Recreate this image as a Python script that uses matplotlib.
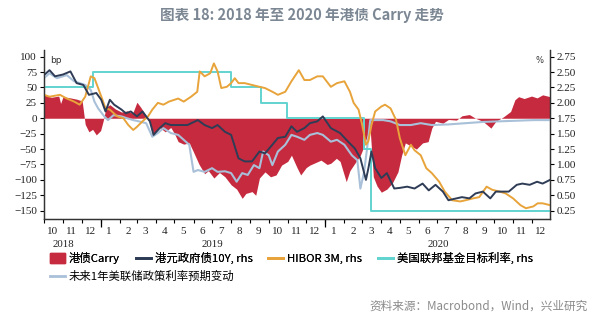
#!/usr/bin/env python

import pandas as pd
import matplotlib
matplotlib.use("Agg")
import matplotlib.pyplot as plt
import matplotlib.dates as mdates
from matplotlib.patches import Patch
from matplotlib.lines import Line2D

plt.rcParams['font.family'] = ['Noto Sans CJK SC', 'DejaVu Sans']

# HK bond carry, bp (lhs)
carry_dates = ["2018-10-01", "2018-10-13", "2018-10-25", "2018-10-28", "2018-11-01", "2018-11-13",
               "2018-11-23", "2018-12-02", "2018-12-07", "2018-12-13", "2018-12-19", "2018-12-25",
               "2019-01-01", "2019-01-05", "2019-01-10", "2019-01-16", "2019-01-25", "2019-02-04",
               "2019-02-13", "2019-02-22", "2019-03-01", "2019-03-07", "2019-03-16", "2019-03-22",
               "2019-03-28", "2019-04-07", "2019-04-16", "2019-04-25", "2019-05-01", "2019-05-07",
               "2019-05-16", "2019-05-25", "2019-06-01", "2019-06-10", "2019-06-19", "2019-06-25",
               "2019-07-04", "2019-07-13", "2019-07-22", "2019-08-01", "2019-08-10", "2019-08-19",
               "2019-08-25", "2019-09-04", "2019-09-10", "2019-09-16", "2019-09-25", "2019-10-04",
               "2019-10-13", "2019-10-22", "2019-11-01", "2019-11-07", "2019-11-16", "2019-11-22",
               "2019-12-01", "2019-12-07", "2019-12-16", "2019-12-25", "2020-01-04", "2020-01-10",
               "2020-01-19", "2020-01-25", "2020-02-04", "2020-02-10", "2020-02-16", "2020-02-27",
               "2020-03-04", "2020-03-10", "2020-03-14", "2020-03-19", "2020-03-25", "2020-04-01",
               "2020-04-10", "2020-04-19", "2020-04-28", "2020-05-04", "2020-05-10", "2020-05-19",
               "2020-05-28", "2020-06-07", "2020-06-16", "2020-06-22", "2020-06-28", "2020-07-10",
               "2020-07-19", "2020-08-01", "2020-08-10", "2020-08-22", "2020-09-01", "2020-09-13",
               "2020-09-26", "2020-10-04", "2020-10-16", "2020-10-28", "2020-11-04", "2020-11-10",
               "2020-11-19", "2020-12-01", "2020-12-10", "2020-12-19", "2020-12-31"]
carry_bp = [38, 34, 36, 24, 35, 33,
            31, 28, -10, -22, -18, -27,
            -20, -5, 18, 22, 15, 10,
            12, 8, 26, 18, 4, -8,
            -25, -15, -22, -15, -25, -38,
            -42, -40, -55, -75, -90, -85,
            -97, -88, -95, -108, -115, -130,
            -122, -119, -125, -97, -87, -95,
            -92, -76, -70, -60, -80, -92,
            -80, -76, -72, -68, -75, -73,
            -65, -70, -103, -85, -76, -60,
            -45, -25, -20, -95, -110, -120,
            -115, -105, -87, -60, -40, -45,
            -50, -40, -38, -16, -5, -8,
            -2, -3, 4, 6, 0, -5,
            -16, -5, 2, 11, 30, 35,
            32, 36, 33, 38, 35]

# HK government bond 10Y, % (rhs)
hk10y_dates = ["2018-10-01", "2018-10-10", "2018-10-19", "2018-11-01", "2018-11-13", "2018-11-23",
               "2018-12-04", "2018-12-13", "2018-12-25", "2019-01-02", "2019-01-09", "2019-01-16",
               "2019-01-23", "2019-02-04", "2019-02-11", "2019-02-19", "2019-03-01", "2019-03-10",
               "2019-03-22", "2019-03-28", "2019-04-07", "2019-04-16", "2019-04-25", "2019-05-07",
               "2019-05-22", "2019-06-08", "2019-06-19", "2019-07-01", "2019-07-10", "2019-07-22",
               "2019-08-01", "2019-08-13", "2019-08-23", "2019-09-04", "2019-09-16", "2019-09-25",
               "2019-10-07", "2019-10-16", "2019-10-28", "2019-11-07", "2019-11-16", "2019-11-28",
               "2019-12-07", "2019-12-19", "2019-12-28", "2020-01-10", "2020-01-25", "2020-02-07",
               "2020-02-18", "2020-02-27", "2020-03-07", "2020-03-11", "2020-03-16", "2020-03-22",
               "2020-04-01", "2020-04-10", "2020-04-22", "2020-05-01", "2020-05-13", "2020-05-25",
               "2020-06-07", "2020-06-17", "2020-06-28", "2020-07-10", "2020-07-19", "2020-08-01",
               "2020-08-10", "2020-08-22", "2020-09-01", "2020-09-13", "2020-09-25", "2020-10-04",
               "2020-10-16", "2020-10-25", "2020-11-07", "2020-11-16", "2020-11-28", "2020-12-10",
               "2020-12-19", "2020-12-31"]
hk10y = [2.45, 2.53, 2.43, 2.46, 2.51, 2.32,
         2.29, 2.13, 2.16, 2.05, 1.86, 2.05,
         1.97, 1.89, 1.83, 1.86, 1.78, 1.86,
         1.70, 1.48, 1.59, 1.67, 1.64, 1.64,
         1.64, 1.72, 1.64, 1.59, 1.64, 1.53,
         1.48, 1.10, 1.05, 1.05, 1.21, 1.18,
         1.32, 1.43, 1.45, 1.62, 1.53, 1.59,
         1.67, 1.70, 1.78, 1.59, 1.51, 1.37,
         1.26, 1.10, 0.75, 0.94, 1.21, 0.94,
         0.78, 0.86, 0.61, 0.62, 0.64, 0.61,
         0.69, 0.58, 0.67, 0.56, 0.42, 0.45,
         0.47, 0.45, 0.53, 0.56, 0.45, 0.56,
         0.56, 0.56, 0.67, 0.69, 0.67, 0.72,
         0.69, 0.75]

# HIBOR 3M, % (rhs)
hibor_dates = ["2018-10-01", "2018-10-10", "2018-10-27", "2018-11-07", "2018-11-19", "2018-11-28",
               "2018-12-07", "2018-12-16", "2018-12-22", "2018-12-28", "2019-01-04", "2019-01-09",
               "2019-01-16", "2019-01-28", "2019-02-07", "2019-02-15", "2019-02-23", "2019-03-01",
               "2019-03-10", "2019-03-19", "2019-03-26", "2019-04-04", "2019-04-13", "2019-04-22",
               "2019-05-07", "2019-05-16", "2019-05-28", "2019-06-07", "2019-06-11", "2019-06-19",
               "2019-06-28", "2019-07-04", "2019-07-10", "2019-07-16", "2019-07-25", "2019-08-01",
               "2019-08-07", "2019-08-13", "2019-08-23", "2019-09-04", "2019-09-16", "2019-09-25",
               "2019-10-07", "2019-10-16", "2019-10-28", "2019-11-07", "2019-11-19", "2019-11-28",
               "2019-12-07", "2019-12-19", "2019-12-28", "2020-01-10", "2020-01-20", "2020-02-01",
               "2020-02-10", "2020-02-16", "2020-02-24", "2020-03-01", "2020-03-07", "2020-03-11",
               "2020-03-16", "2020-03-22", "2020-04-01", "2020-04-07", "2020-04-16", "2020-04-25",
               "2020-05-01", "2020-05-10", "2020-05-19", "2020-05-25", "2020-06-04", "2020-06-13",
               "2020-06-22", "2020-07-04", "2020-07-13", "2020-07-25", "2020-08-07", "2020-08-16",
               "2020-08-28", "2020-09-07", "2020-09-19", "2020-09-28", "2020-10-10", "2020-10-20",
               "2020-11-01", "2020-11-13", "2020-11-22", "2020-12-04", "2020-12-11", "2020-12-19",
               "2020-12-31"]
hibor = [2.13, 2.10, 2.13, 2.07, 2.02, 1.97,
         2.10, 2.43, 2.40, 2.24, 2.05, 1.91,
         1.89, 1.78, 1.75, 1.64, 1.56, 1.61,
         1.70, 1.78, 1.89, 2.00, 1.97, 2.02,
         2.07, 2.02, 2.10, 2.18, 2.51, 2.43,
         2.48, 2.64, 2.51, 2.24, 2.26, 2.32,
         2.40, 2.32, 2.32, 2.29, 2.26, 2.24,
         2.18, 2.13, 2.18, 2.35, 2.53, 2.37,
         2.37, 2.43, 2.43, 2.26, 2.32, 2.35,
         2.18, 2.00, 1.89, 1.64, 1.32, 1.38,
         1.64, 1.86, 1.94, 1.97, 1.91, 1.72,
         1.43, 1.15, 1.32, 1.23, 1.15, 0.94,
         0.86, 0.72, 0.56, 0.42, 0.40, 0.42,
         0.45, 0.47, 0.64, 0.59, 0.56, 0.53,
         0.45, 0.34, 0.29, 0.32, 0.37, 0.37,
         0.34]

# US fed funds target (upper bound), % (rhs), step changes
fed_dates = ["2018-10-01", "2018-12-20", "2019-08-01", "2019-09-19", "2019-10-31",
             "2020-03-04", "2020-03-16", "2020-12-31"]
fed_rate = [2.25, 2.50, 2.25, 2.00, 1.75, 1.25, 0.25, 0.25]

# expected change of fed policy rate in next 1 year, bp (lhs)
exp_dates = ["2018-10-01", "2018-10-10", "2018-10-22", "2018-11-07", "2018-11-19", "2018-11-28",
             "2018-12-07", "2018-12-16", "2018-12-22", "2018-12-28", "2019-01-07", "2019-01-13",
             "2019-01-22", "2019-02-04", "2019-02-13", "2019-02-23", "2019-03-04", "2019-03-16",
             "2019-03-26", "2019-04-04", "2019-04-13", "2019-04-25", "2019-05-07", "2019-05-16",
             "2019-05-25", "2019-06-01", "2019-06-08", "2019-06-19", "2019-07-01", "2019-07-10",
             "2019-07-22", "2019-08-01", "2019-08-10", "2019-08-19", "2019-08-28", "2019-09-07",
             "2019-09-16", "2019-09-22", "2019-10-01", "2019-10-07", "2019-10-16", "2019-10-28",
             "2019-11-07", "2019-11-16", "2019-11-28", "2019-12-07", "2019-12-19", "2019-12-28",
             "2020-01-10", "2020-01-20", "2020-02-01", "2020-02-13", "2020-02-22", "2020-02-27",
             "2020-03-04", "2020-03-10", "2020-03-14", "2020-03-19", "2020-04-04", "2020-04-16",
             "2020-05-01", "2020-05-19", "2020-06-04", "2020-06-22", "2020-07-19", "2020-08-16",
             "2020-09-13", "2020-10-10", "2020-11-07", "2020-12-04", "2020-12-31"]
exp_bp = [65, 73, 65, 70, 60, 57,
          54, 46, 27, 16, 3, -3,
          5, 3, 0, -3, -5, -8,
          -30, -24, -16, -24, -27, -35,
          -43, -87, -84, -87, -81, -87,
          -86, -89, -103, -89, -92, -76,
          -81, -54, -60, -76, -54, -43,
          -27, -30, -35, -27, -24, -27,
          -38, -35, -43, -60, -68, -114,
          -87, -40, -3, -3, -3, -5,
          -11, -11, -8, -11, -10, -8,
          -6, -5, -4, -3, -3]

month_labels = ["10", "11", "12"] + [str(m) for m in range(1, 13)] * 2
year_labels = ["2018", "2019", "2020"]
year_pos = ["2018-11-01", "2019-07-01", "2020-07-03"]

red = "#C62A3F"
navy = "#2F3C56"
orange = "#E8A43A"
cyan = "#62D4D0"
lightblue = "#A9C0D9"
serif = "Liberation Serif"

fig = plt.figure(figsize=(6.04, 3.24), dpi=100)
ax = fig.add_axes([0.0728, 0.324, 0.8378, 0.522])
ax2 = ax.twinx()

ax.fill_between(pd.to_datetime(carry_dates), carry_bp, 0, color=red, lw=0, zorder=1)
ax.plot(pd.to_datetime(exp_dates), exp_bp, color=lightblue, lw=1.5, zorder=3)

ax2.plot(pd.to_datetime(fed_dates), fed_rate, color=cyan, lw=1.4, drawstyle="steps-post")
ax2.plot(pd.to_datetime(hibor_dates), hibor, color=orange, lw=1.4)
ax2.plot(pd.to_datetime(hk10y_dates), hk10y, color=navy, lw=1.4)

# same scale on both sides: 0 bp <-> 1.75 %
ax.set_ylim(-163.5, 110.9)
ax2.set_ylim(0.115, 2.859)
ax.set_yticks(range(-150, 101, 25))
ax2.set_yticks([0.25, 0.5, 0.75, 1.0, 1.25, 1.5, 1.75, 2.0, 2.25, 2.5, 2.75])
ax2.set_yticklabels(["%.2f" % v for v in ax2.get_yticks()])

start, end = pd.Timestamp("2018-10-01"), pd.Timestamp("2020-12-31")
ax.set_xlim(start, end)

# month ticks at month starts, labels at mid-month
month_mid = pd.date_range(start, end, freq="MS") + pd.Timedelta(days=14)
ax.set_xticks(month_mid)
ax.set_xticklabels(month_labels)
ax.xaxis.set_minor_locator(mdates.MonthLocator())
ax.tick_params(axis="x", which="major", length=0, pad=6)
ax.tick_params(axis="x", which="minor", length=3, direction="out", width=0.8)

sec = ax.secondary_xaxis("bottom")
sec.set_xticks(pd.to_datetime(["2019-01-01", "2020-01-01"]))
sec.set_xticklabels(["", ""])
sec.tick_params(length=6, width=0.9)
sec.spines["bottom"].set_visible(False)

for lab, pos in zip(year_labels, year_pos):
    ax.text(pd.Timestamp(pos), -0.15, lab, transform=ax.get_xaxis_transform(),
            ha="center", va="center", fontsize=7.8, family=serif, color="#222222")

for a in (ax, ax2):
    a.spines["top"].set_visible(False)
    for s in ("left", "right", "bottom"):
        a.spines[s].set_color("#333333")
        a.spines[s].set_linewidth(0.9)
ax.tick_params(axis="y", length=3, width=0.8, pad=2)
ax2.tick_params(axis="y", length=3, width=0.8, pad=2)
for lab in ax.get_xticklabels() + ax.get_yticklabels() + ax2.get_yticklabels():
    lab.set_family(serif)
    lab.set_fontsize(8)
    lab.set_color("#222222")

ax.text(0.012, 0.965, "bp", transform=ax.transAxes, fontsize=6.5, family="DejaVu Sans",
        ha="left", va="top", color="#333333")
ax2.text(0.988, 0.965, "%", transform=ax.transAxes, fontsize=6, family="DejaVu Sans",
         ha="right", va="top", color="#333333")

fig.text(0.5, 0.953, "图表 18: 2018 年至 2020 年港债 Carry 走势", ha="center", va="center",
         fontsize=10.5, fontweight="bold", color="#7C8794")

leg_font = {"family": ["Noto Sans CJK SC", "DejaVu Sans"], "size": 8.2, "weight": "light"}
h1 = [Patch(color=red), Line2D([], [], color=navy, lw=2), Line2D([], [], color=orange, lw=2),
      Line2D([], [], color=cyan, lw=2)]
l1 = ["港债Carry", "港元政府债10Y, rhs", "HIBOR 3M, rhs", "美国联邦基金目标利率, rhs"]
leg1 = fig.legend(h1, l1, ncol=4, loc="center left", bbox_to_anchor=(0.083, 0.204), frameon=False,
                  prop=leg_font, handlelength=1.3, handleheight=0.9, handletextpad=0.35,
                  columnspacing=1.4, borderaxespad=0, borderpad=0)
fig.add_artist(leg1)
fig.legend([Line2D([], [], color=lightblue, lw=2)], ["未来1年美联储政策利率预期变动"], loc="center left",
           bbox_to_anchor=(0.083, 0.148), frameon=False, prop=leg_font, handlelength=1.3,
           handletextpad=0.35, borderaxespad=0, borderpad=0)

fig.text(0.973, 0.055, "资料来源：Macrobond，Wind，兴业研究", ha="right", va="center",
         fontsize=8.4, color="#8A8A8A")

fig.savefig("out.png", dpi=100)
